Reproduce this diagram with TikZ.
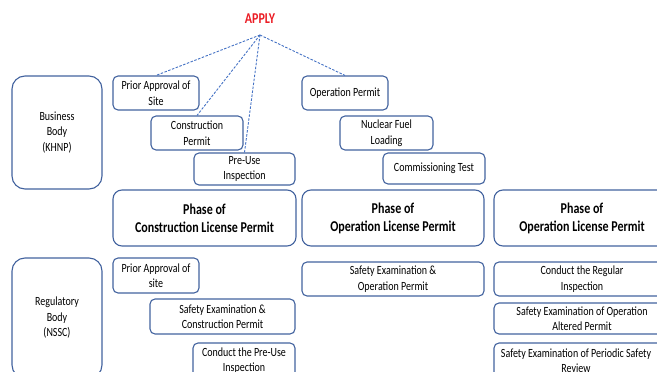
\documentclass[tikz,border=0pt]{standalone}
\usepackage{fontspec}
\setmainfont{Carlito}[FakeStretch=0.8]
\definecolor{boxline}{RGB}{66,98,158}
\definecolor{dashline}{RGB}{68,114,196}
\definecolor{applyred}{RGB}{235,28,36}
\begin{document}
\begin{tikzpicture}[x=1pt,y=-1pt,
    box/.style={draw=boxline,line width=1.1pt,rounded corners=5pt,align=center,
      inner sep=0pt,font=\fontsize{12.5}{15.5}\selectfont},
    bodybox/.style={box,rounded corners=13pt,minimum width=90pt},
    phasebox/.style={box,rounded corners=9pt,minimum height=56pt,
      font=\fontsize{15}{18}\selectfont\bfseries},
    link/.style={draw=dashline,dashed,dash pattern=on 2.5pt off 1.5pt,line width=0.9pt}]
    \useasboundingbox (0,0) rectangle (657,372);
    \clip (0,0) rectangle (657,372);

    % who does it
    \node at (57, 132.5) (bus) [bodybox,minimum height=113pt] {Business\\Body\\(KHNP)};
    \node at (57, 318)   (reg) [bodybox,minimum height=120pt] {Regulatory\\Body\\(NSSC)};

    % applications of the business body
    \node at (260, 19) (apply) [font=\fontsize{15}{17}\selectfont\bfseries,text=applyred] {APPLY};
    \coordinate (top) at (260, 35);
    \node at (156, 93)    (pas) [box,minimum width=86pt,minimum height=34pt] {Prior Approval of\\Site};
    \node at (197, 133)   (cp)  [box,minimum width=92pt,minimum height=34pt] {Construction\\Permit};
    \node at (244.5, 169) (pui) [box,minimum width=101pt,minimum height=32pt] {Pre-Use\\Inspection};
    \node at (345, 93)    (op)  [box,minimum width=86pt,minimum height=34pt] {Operation Permit};
    \node at (386.5, 133) (nfl) [box,minimum width=93pt,minimum height=34pt] {Nuclear Fuel\\Loading};
    \node at (434, 168.5) (ct)  [box,minimum width=102pt,minimum height=31pt] {Commissioning Test};

    % phases
    \node at (204.5, 218) (ph1) [phasebox,minimum width=183pt] {Phase of\\Construction License Permit};
    \node at (393, 218)   (ph2) [phasebox,minimum width=182pt] {Phase of\\Operation License Permit};
    \node at (582, 218)   (ph3) [phasebox,minimum width=176pt] {Phase of\\Operation License Permit};

    % tasks of the regulatory body
    \node at (156, 275.5) (rpa)  [box,minimum width=86pt,minimum height=35pt] {Prior Approval of\\site};
    \node at (222.5, 316.5) (sec) [box,minimum width=145pt,minimum height=35pt] {Safety Examination \&\\Construction Permit};
    \node at (244, 360.5) (cpu)  [box,minimum width=102pt,minimum height=35pt] {Conduct the Pre-Use\\Inspection};
    \node at (393, 279)   (seo)  [box,minimum width=182pt,minimum height=34pt] {Safety Examination \&\\Operation Permit};
    \node at (582, 279)   (cri)  [box,minimum width=176pt,minimum height=34pt] {Conduct the Regular\\Inspection};
    \node at (582, 318.5) (seoa) [box,minimum width=176pt,minimum height=31pt] {Safety Examination of Operation\\Altered Permit};
    \node at (582, 360.5) (sepr) [box,minimum width=176pt,minimum height=35pt,
      label={[xshift=-6pt,align=center,font=\fontsize{12.5}{15.5}\selectfont]center:Safety Examination of Periodic Safety\\Review}] {};

    \draw[link] (top) -- (pas.north);
    \draw[link] (top) -- (cp.north);
    \draw[link] (top) -- (pui.north);
    \draw[link] (top) -- (op.north);
\end{tikzpicture}
\end{document}
